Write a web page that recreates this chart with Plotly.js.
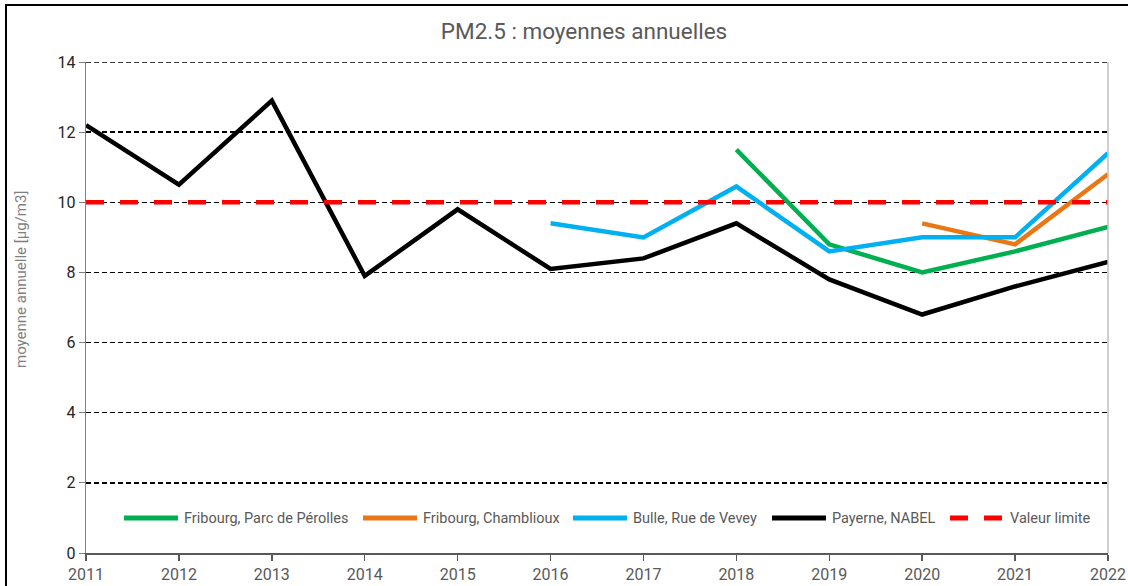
<!DOCTYPE html>
<html><head><meta charset="utf-8">
<script src="https://cdn.plot.ly/plotly-3.0.1.min.js"></script>
<style>
html,body{margin:0;padding:0;background:#fff;overflow:hidden}
#wrap{position:relative;width:1128px;height:586px}
#chart{width:1128px;height:586px}
#frame{position:absolute;left:5px;top:4px;width:1300px;height:800px;border:2px solid #000;pointer-events:none;z-index:10;box-sizing:border-box}
</style></head>
<body><div id="wrap"><div id="chart"></div><div id="frame"></div></div>
<script>
const years = [2011,2012,2013,2014,2015,2016,2017,2018,2019,2020,2021,2022];
const perolles   = [null,null,null,null,null,null,null,11.5,8.8,8.0,8.6,9.3];
const chamblioux = [null,null,null,null,null,null,null,null,null,9.4,8.8,10.8];
const bulle      = [null,null,null,null,null,9.4,9.0,10.45,8.6,9.0,9.0,11.4];
const payerne    = [12.2,10.5,12.9,7.9,9.8,8.1,8.4,9.4,7.8,6.8,7.6,8.3];
const limite     = [10,10,10,10,10,10,10,10,10,10,10,10];
const names = ["Fribourg, Parc de Pérolles","Fribourg, Chamblioux","Bulle, Rue de Vevey","Payerne, NABEL","Valeur limite"];
const colors = ["#00B050","#E97716","#00B0F0","#000000","#FF0000"];
const yTicks = [0,2,4,6,8,10,12,14];

const series = [perolles, chamblioux, bulle, payerne];
const traces = [];
series.forEach((s,i)=>{
  traces.push({x:years,y:s,type:'scatter',mode:'lines',name:names[i],
    line:{color:colors[i],width:4.5},connectgaps:false,showlegend:false,hoverinfo:'x+y'});
});
traces.push({x:years,y:limite,type:'scatter',mode:'lines',name:names[4],
  line:{color:colors[4],width:4.5,dash:'18px,16px'},showlegend:false});

const L = 86, R = 1108, T = 62, B = 553, W = 1128, H = 586;
const px = v => (v - L)/(R - L);
const py = v => (B - v)/(B - T);

const legX = [124, 363, 573, 772, 950];
const legY = 518;
const shapes = [
  {type:'line',xref:'paper',yref:'paper',x0:1,x1:1,y0:0,y1:1,line:{color:'#BFBFBF',width:1.5}},
  {type:'line',xref:'paper',yref:'y',x0:0,x1:1,y0:yTicks[yTicks.length-1],y1:yTicks[yTicks.length-1],layer:'below',
    line:{color:'#000',width:1.5,dash:'5px,3px'}}
];
const annotations = [];
legX.forEach((x,i)=>{
  shapes.push({type:'line',xref:'paper',yref:'paper',x0:px(x),x1:px(x+54),y0:py(legY),y1:py(legY),
    line:{color:colors[i],width:5,dash:i===4?'18px,16px':'solid'}});
  annotations.push({xref:'paper',yref:'paper',x:px(x+58),y:py(legY),xanchor:'left',yanchor:'middle',
    text:names[i],showarrow:false,font:{family:'Roboto',size:14.5,color:'#595959'}});
});
annotations.push({xref:'paper',yref:'paper',x:px(21),y:py(280),xanchor:'center',yanchor:'middle',
  text:'moyenne annuelle [µg/m3]',textangle:-90,showarrow:false,font:{family:'Roboto',size:15,color:'#7F7F7F'}});

const layout = {
  width:W,height:H,
  margin:{l:L,r:W-R,t:T,b:H-B,pad:0},
  paper_bgcolor:'#fff',plot_bgcolor:'#fff',
  showlegend:false,
  title:{text:'PM2.5 : moyennes annuelles',x:px(584),xref:'paper',xanchor:'center',y:1-31/H,yanchor:'middle',
    font:{family:'Roboto',size:22.5,color:'#595959'}},
  xaxis:{range:[2011,2022],tickvals:years,ticktext:years.map(String),showgrid:false,zeroline:false,
    showline:true,linecolor:'#595959',linewidth:1.5,ticks:'outside',ticklen:6,tickcolor:'#595959',tickwidth:1.5,
    tickfont:{family:'Roboto',size:16,color:'#595959'}},
  yaxis:{range:[0,14],tickvals:yTicks,showgrid:true,gridcolor:'#000',gridwidth:1.5,griddash:'5px,3px',zeroline:false,
    showline:true,linecolor:'#7F7F7F',linewidth:1.3,ticks:'outside',ticklen:6,tickcolor:'#7F7F7F',
    tickfont:{family:'Roboto',size:16,color:'#262626'}},
  shapes:shapes,annotations:annotations
};
Plotly.newPlot('chart',traces,layout,{displayModeBar:false,staticPlot:true});
</script></body></html>
